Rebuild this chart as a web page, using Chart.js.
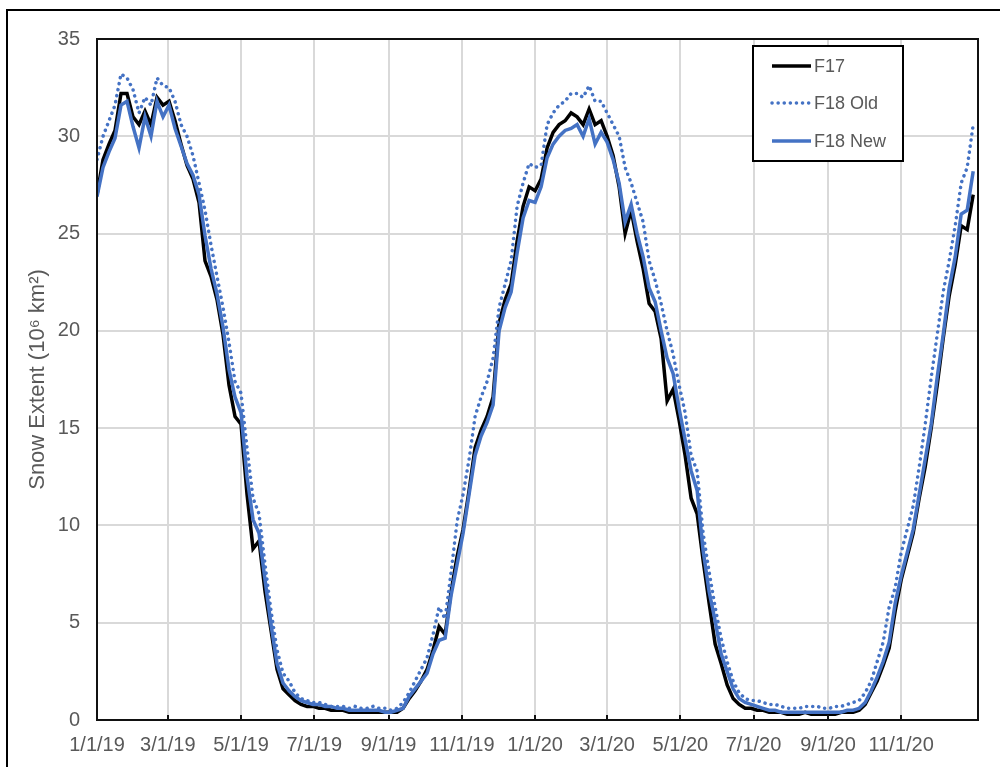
<!DOCTYPE html>
<html>
<head>
<meta charset="utf-8">
<script src="https://cdn.jsdelivr.net/npm/chart.js@4/dist/chart.umd.min.js"></script>
<style>
  html, body { margin: 0; padding: 0; background: #fff; }
  #wrap { width: 1000px; height: 767px; }
</style>
</head>
<body>
<div id="wrap"><canvas id="myChart" width="1000" height="767"></canvas></div>
<script>
// sample days (days since 1/1/19), one sample every 5 days
var days = [];
for (var d = 0; d <= 730; d += 5) days.push(d);

// Snow extent (10^6 km2)
var f17 = [
  27.0, 28.8, 29.6, 30.3, 32.2, 32.2, 31.0, 30.6, 31.3, 30.6,
  32.0, 31.6, 31.8, 30.8, 29.6, 28.5, 27.8, 26.6, 23.6, 22.8,
  21.6, 19.8, 17.2, 15.6, 15.2, 11.6, 8.8, 9.2, 6.6, 4.6,
  2.6, 1.6, 1.3, 1.0, 0.8, 0.7, 0.7, 0.6, 0.6, 0.5,
  0.5, 0.5, 0.4, 0.4, 0.4, 0.4, 0.4, 0.4, 0.4, 0.4,
  0.4, 0.6, 1.1, 1.5, 2.0, 2.6, 3.6, 4.8, 4.4, 6.6,
  8.4, 9.8, 11.8, 14.0, 14.9, 15.6, 16.6, 20.4, 21.6, 22.4,
  24.6, 26.4, 27.4, 27.2, 27.8, 29.4, 30.2, 30.6, 30.8, 31.2,
  31.0, 30.6, 31.4, 30.6, 30.8, 30.0, 29.0, 27.4, 25.0, 26.2,
  24.6, 23.2, 21.4, 21.0, 19.6, 16.4, 17.0, 15.4, 13.6, 11.4,
  10.6, 8.2, 6.0, 3.9, 2.9, 1.8, 1.1, 0.8, 0.6, 0.6,
  0.5, 0.5, 0.4, 0.4, 0.4, 0.3, 0.3, 0.3, 0.4, 0.3,
  0.3, 0.3, 0.3, 0.3, 0.4, 0.4, 0.4, 0.5, 0.8, 1.4,
  2.0, 2.8, 3.7, 5.6, 7.2, 8.4, 9.6, 11.4, 13.0, 15.0,
  17.2, 19.6, 21.8, 23.4, 25.4, 25.2, 27.0
];
var f18Old = [
  28.8, 30.0, 30.8, 31.6, 33.2, 33.0, 32.4, 31.2, 32.0, 31.6,
  33.0, 32.6, 32.5, 31.8, 30.6, 30.0, 29.0, 27.6, 26.2, 24.4,
  22.8, 21.2, 19.4, 17.4, 16.8, 14.0, 11.4, 10.6, 8.0, 5.6,
  3.6, 2.4, 2.0, 1.4, 1.1, 1.0, 0.9, 0.9, 0.8, 0.7,
  0.7, 0.7, 0.6, 0.7, 0.6, 0.6, 0.7, 0.6, 0.6, 0.5,
  0.6, 0.9, 1.4, 2.0, 2.6, 3.2, 4.4, 5.8, 5.2, 7.6,
  10.2, 11.6, 13.4, 15.6, 16.6, 17.4, 18.6, 21.2, 22.4, 23.6,
  26.4, 27.6, 28.6, 28.4, 28.5, 30.6, 31.2, 31.6, 31.8, 32.2,
  32.2, 32.0, 32.6, 31.8, 31.8, 31.2, 30.6, 30.0, 28.4, 27.6,
  26.6, 25.6, 23.6, 22.6, 21.4, 20.0, 18.8, 17.2, 15.8, 13.6,
  12.8, 9.6, 7.6, 5.8, 4.2, 3.0, 2.0, 1.4, 1.1, 1.0,
  1.0, 0.9, 0.8, 0.8, 0.7, 0.6, 0.6, 0.6, 0.7, 0.7,
  0.7, 0.6, 0.6, 0.7, 0.7, 0.8, 0.9, 1.0, 1.4, 2.0,
  3.0, 4.0, 5.8, 6.8, 8.6, 9.8, 11.0, 13.0, 15.2, 17.6,
  19.8, 22.0, 23.6, 25.4, 27.6, 28.4, 30.6
];
var f18New = [
  26.9, 28.4, 29.2, 29.9, 31.6, 31.8, 30.5, 29.4, 31.0, 30.0,
  31.8, 31.0, 31.6, 30.4, 29.5, 28.6, 28.0, 27.0, 24.9, 23.2,
  21.9, 20.2, 18.0, 16.6, 15.8, 12.5, 10.3, 9.6, 7.2, 4.9,
  2.9, 1.9, 1.5, 1.2, 1.0, 0.9, 0.8, 0.8, 0.7, 0.7,
  0.6, 0.6, 0.5, 0.5, 0.5, 0.5, 0.5, 0.5, 0.4, 0.4,
  0.5, 0.6, 1.2, 1.6, 2.0, 2.4, 3.4, 4.1, 4.2, 6.4,
  8.0, 9.6, 11.6, 13.6, 14.6, 15.3, 16.2, 20.0, 21.2, 22.0,
  24.0, 25.8, 26.7, 26.6, 27.4, 28.9, 29.6, 30.0, 30.3, 30.4,
  30.6, 30.0, 30.9, 29.6, 30.2, 29.7, 28.8, 27.6, 25.6, 26.5,
  25.0, 23.8, 22.2, 21.5, 20.0, 18.6, 17.8, 16.0, 14.4, 12.8,
  11.8, 8.7, 6.6, 5.1, 3.4, 2.5, 1.6, 1.1, 0.9, 0.8,
  0.7, 0.6, 0.5, 0.5, 0.4, 0.4, 0.4, 0.4, 0.4, 0.4,
  0.4, 0.4, 0.4, 0.4, 0.4, 0.5, 0.5, 0.6, 0.9, 1.5,
  2.2, 3.0, 4.0, 6.0, 7.4, 8.6, 9.8, 11.6, 13.4, 15.2,
  17.6, 19.8, 22.2, 23.8, 26.0, 26.2, 28.2
];

// x-axis ticks: first of every other month
var tickDays = [0, 59, 120, 181, 243, 304, 365, 425, 486, 547, 609, 670];
var tickLabels = ["1/1/19", "3/1/19", "5/1/19", "7/1/19", "9/1/19", "11/1/19",
                  "1/1/20", "3/1/20", "5/1/20", "7/1/20", "9/1/20", "11/1/20"];
var seriesNames = ["F17", "F18 Old", "F18 New"];

var BLUE = "#4472C4";
var FONT = "'Liberation Sans', Arial, sans-serif";

function pts(vals) {
  return days.map(function (d, i) { return { x: d, y: vals[i] }; });
}

// frame, outer border, inner tick marks and legend
var decorations = {
  id: "decorations",
  afterDraw: function (chart) {
    var ctx = chart.ctx, a = chart.chartArea;
    ctx.save();
    // outer chart border (cut off at right and bottom)
    ctx.strokeStyle = "#000";
    ctx.lineWidth = 2;
    ctx.beginPath();
    ctx.moveTo(7, 767); ctx.lineTo(7, 10); ctx.lineTo(1000, 10);
    ctx.stroke();
    // plot frame
    ctx.strokeStyle = "#111";
    ctx.lineWidth = 2;
    ctx.strokeRect(a.left, a.top, a.right - a.left, a.bottom - a.top);
    // small tick marks pointing up from the x axis
    var xs = chart.scales.x;
    ctx.beginPath();
    tickDays.forEach(function (t) {
      var px = Math.round(xs.getPixelForValue(t));
      ctx.moveTo(px, a.bottom); ctx.lineTo(px, a.bottom - 5);
    });
    ctx.stroke();

    // legend box
    var lx = 753, ly = 46, lw = 150, lh = 115;
    ctx.fillStyle = "#fff";
    ctx.fillRect(lx, ly, lw, lh);
    ctx.strokeStyle = "#000";
    ctx.lineWidth = 2;
    ctx.strokeRect(lx, ly, lw, lh);
    var rows = [66, 103, 141];
    var ds = chart.data.datasets;
    seriesNames.forEach(function (name, i) {
      var set = ds.filter(function (s) { return s.label === name; })[0];
      ctx.beginPath();
      ctx.strokeStyle = set.borderColor;
      ctx.lineWidth = set.borderWidth;
      ctx.lineCap = set.borderDash.length ? "round" : "butt";
      ctx.setLineDash(set.borderDash);
      ctx.moveTo(772, rows[i]); ctx.lineTo(811, rows[i]);
      ctx.stroke();
      ctx.setLineDash([]);
      ctx.fillStyle = "#595959";
      ctx.font = "18px " + FONT;
      ctx.textBaseline = "middle";
      ctx.textAlign = "left";
      ctx.fillText(name, 814, rows[i] + 1);
    });
    ctx.restore();
  }
};

var ctx = document.getElementById("myChart").getContext("2d");
var myChart = new Chart(ctx, {
  type: "line",
  data: {
    datasets: [
      {
        label: seriesNames[0],
        data: pts(f17),
        borderColor: "#000",
        borderWidth: 3.5,
        borderDash: [],
        order: 3,
      },
      {
        label: seriesNames[1],
        data: pts(f18Old),
        borderColor: BLUE,
        borderWidth: 3.5,
        borderDash: [0.1, 6],
        borderCapStyle: "round",
        order: 1,
      },
      {
        label: seriesNames[2],
        data: pts(f18New),
        borderColor: BLUE,
        borderWidth: 3.5,
        borderDash: [],
        order: 2,
      },
    ],
  },
  options: {
    responsive: false,
    animation: false,
    parsing: false,
    layout: { padding: { left: 16, top: 39, right: 22, bottom: 0 } },
    elements: { point: { radius: 0 }, line: { tension: 0 } },
    plugins: { legend: { display: false }, tooltip: { enabled: false } },
    scales: {
      x: {
        type: "linear",
        min: 0,
        max: 734,
        afterBuildTicks: function (scale) {
          scale.ticks = tickDays.map(function (v) { return { value: v }; });
        },
        afterFit: function (scale) { scale.height = 47; },
        grid: { color: "#d9d9d9", lineWidth: 2, drawTicks: false },
        border: { display: false },
        ticks: {
          autoSkip: false,
          maxRotation: 0,
          padding: 13,
          color: "#595959",
          font: { family: FONT, size: 20 },
          callback: function (v) {
            var i = tickDays.indexOf(v);
            return i >= 0 ? tickLabels[i] : "";
          },
        },
      },
      y: {
        min: 0,
        max: 35,
        afterFit: function (scale) { scale.width = 81; },
        grid: { color: "#d9d9d9", lineWidth: 2, drawTicks: false },
        border: { display: false },
        ticks: {
          stepSize: 5,
          padding: 17,
          color: "#595959",
          font: { family: FONT, size: 20 },
        },
        title: {
          display: true,
          text: "Snow Extent (10\u2076 km\u00b2)",
          color: "#595959",
          font: { family: FONT, size: 22 },
          padding: { top: 9, bottom: 0 },
        },
      },
    },
  },
  plugins: [decorations],
});
</script>
</body>
</html>
